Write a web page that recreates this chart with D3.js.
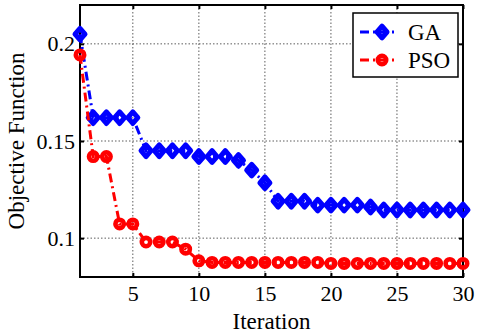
<!DOCTYPE html>
<html>
<head>
<meta charset="utf-8">
<script src="https://cdn.jsdelivr.net/npm/d3@7"></script>
<style>
  body { margin: 0; background: #fff; }
  text { font-family: "Liberation Serif", "Times New Roman", serif; fill: #000; }
</style>
</head>
<body>
<svg class="chart" width="480" height="335"></svg>
<script>
var iterations = d3.range(1, 31);
var gaValues = [0.205, 0.162, 0.162, 0.162, 0.162, 0.145, 0.145, 0.145, 0.145, 0.142,
  0.142, 0.142, 0.140, 0.135, 0.1285, 0.119, 0.119, 0.119, 0.117, 0.117,
  0.117, 0.117, 0.116, 0.1145, 0.1145, 0.1145, 0.1145, 0.1145, 0.1145, 0.1145];
var psoValues = [0.1943, 0.142, 0.142, 0.1073, 0.1073, 0.098, 0.098, 0.098, 0.0943, 0.0883,
  0.0875, 0.0875, 0.0875, 0.0875, 0.0875, 0.0875, 0.0875, 0.0875, 0.0875, 0.087,
  0.087, 0.087, 0.087, 0.087, 0.087, 0.087, 0.087, 0.087, 0.087, 0.087];
var xTicks = [5, 10, 15, 20, 25, 30];
var yTicks = [0.1, 0.15, 0.2];
var seriesNames = ["GA", "PSO"];

var pLeft = 80, pRight = 463, pTop = 5, pBottom = 277;

var x = d3.scaleLinear().domain([1, 30]).range([pLeft, pRight]);
var y = d3.scaleLinear().domain([0.08, 0.22]).range([pBottom, pTop]);

var chart = d3.select(".chart");

// grid
var grid = chart.append("g").attr("stroke", "#333").attr("stroke-width", 0.8)
  .attr("stroke-dasharray", "1.5,2");
grid.selectAll(".gx").data(xTicks.filter(function(d) { return d < 30; })).enter()
  .append("line")
  .attr("x1", function(d) { return x(d); }).attr("x2", function(d) { return x(d); })
  .attr("y1", pTop).attr("y2", pBottom);
grid.selectAll(".gy").data(yTicks).enter()
  .append("line")
  .attr("y1", function(d) { return y(d); }).attr("y2", function(d) { return y(d); })
  .attr("x1", pLeft).attr("x2", pRight);

// axes (ticks inward, box on)
var xAxis = chart.append("g").attr("transform", "translate(0," + pBottom + ")")
  .call(d3.axisBottom(x).tickValues(xTicks).tickSizeInner(-4).tickSizeOuter(0).tickPadding(8));
var xTop = chart.append("g").attr("transform", "translate(0," + pTop + ")")
  .call(d3.axisTop(x).tickValues(xTicks).tickSizeInner(-4).tickSizeOuter(0).tickFormat(""));
var yAxis = chart.append("g").attr("transform", "translate(" + pLeft + ",0)")
  .call(d3.axisLeft(y).tickValues(yTicks).tickSizeInner(-4).tickSizeOuter(0).tickPadding(5)
    .tickFormat(d3.format("")));
var yRight = chart.append("g").attr("transform", "translate(" + pRight + ",0)")
  .call(d3.axisRight(y).tickValues(yTicks).tickSizeInner(-4).tickSizeOuter(0).tickFormat(""));

[xAxis, xTop, yAxis, yRight].forEach(function(a) {
  a.attr("font-family", null).attr("font-size", null);
  a.select(".domain").remove();
  a.selectAll(".tick line").attr("stroke", "#000").attr("stroke-width", 2);
  a.selectAll("text").attr("font-size", 22).attr("fill", "#000");
});

chart.append("rect")
  .attr("x", pLeft).attr("y", pTop)
  .attr("width", pRight - pLeft).attr("height", pBottom - pTop)
  .attr("fill", "none").attr("stroke", "#000").attr("stroke-width", 2);

// axis labels
chart.append("text")
  .attr("x", (pLeft + pRight) / 2).attr("y", 329)
  .attr("text-anchor", "middle").attr("font-size", 23)
  .text("Iteration");
chart.append("text")
  .attr("transform", "translate(24," + (pTop + pBottom) / 2 + ") rotate(-90)")
  .attr("text-anchor", "middle").attr("font-size", 23)
  .text("Objective Function");

var line = d3.line()
  .x(function(d) { return x(d[0]); })
  .y(function(d) { return y(d[1]); });

var dash = "9,4,2,4";

// markers are hollow with a thick edge, so the line shows through them
function diamond(g, cx, cy, color) {
  g.append("path")
    .attr("d", "M" + cx + "," + (cy - 5.8) + "L" + (cx + 5) + "," + cy + "L" + cx + "," + (cy + 5.8) + "L" + (cx - 5) + "," + cy + "Z")
    .attr("fill", "none").attr("stroke", color).attr("stroke-width", 5)
    .attr("stroke-linejoin", "round");
}
function circle(g, cx, cy, color) {
  g.append("circle").attr("cx", cx).attr("cy", cy).attr("r", 4.2)
    .attr("fill", "none").attr("stroke", color).attr("stroke-width", 4.6);
}

var gaData = iterations.map(function(d, i) { return [d, gaValues[i]]; });
var psoData = iterations.map(function(d, i) { return [d, psoValues[i]]; });

chart.append("path").datum(gaData).attr("d", line)
  .attr("fill", "none").attr("stroke", "#0000ff").attr("stroke-width", 3)
  .attr("stroke-dasharray", dash);
var gaMarks = chart.append("g");
gaData.forEach(function(d) { diamond(gaMarks, x(d[0]), y(d[1]), "#0000ff"); });

chart.append("path").datum(psoData).attr("d", line)
  .attr("fill", "none").attr("stroke", "#ff0000").attr("stroke-width", 3)
  .attr("stroke-dasharray", dash);
var psoMarks = chart.append("g");
psoData.forEach(function(d) { circle(psoMarks, x(d[0]), y(d[1]), "#ff0000"); });

// legend
var legend = chart.append("g");
legend.append("rect")
  .attr("x", 353).attr("y", 13).attr("width", 105).attr("height", 64)
  .attr("fill", "#fff").attr("stroke", "#000").attr("stroke-width", 1.5);
var colors = ["#0000ff", "#ff0000"];
seriesNames.forEach(function(name, i) {
  var ly = 32 + i * 28;
  legend.append("line").attr("x1", 360).attr("x2", 398).attr("y1", ly).attr("y2", ly)
    .attr("stroke", colors[i]).attr("stroke-width", 3).attr("stroke-dasharray", dash);
  if (i === 0) diamond(legend, 382, ly, colors[i]); else circle(legend, 382, ly, colors[i]);
  legend.append("text").attr("x", 408).attr("y", ly + 8).attr("font-size", 23).text(name);
});
</script>
</body>
</html>
